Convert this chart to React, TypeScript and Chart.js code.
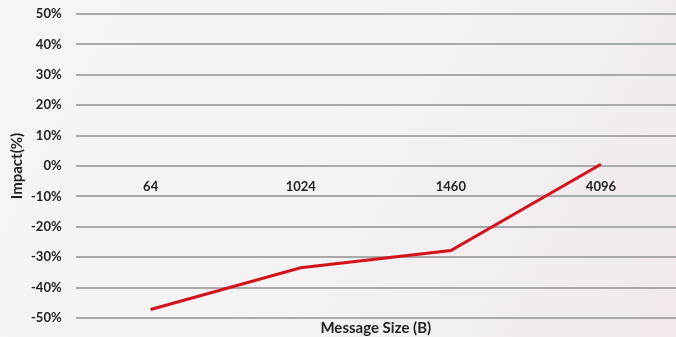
import React, { useEffect, useRef } from "react";
import { Chart, registerables } from "chart.js";

Chart.register(...registerables);

const messageSizes = ["64", "1024", "1460", "4096"];
const impactPercent = [-47.2, -33.5, -27.8, 0.6];
const yTicks = [-50, -40, -30, -20, -10, 0, 10, 20, 30, 40, 50];

const FONT = "Lato, 'Open Sans', sans-serif";
const TEXT = "#222222";

const backgroundPlugin = {
  id: "panelBackground",
  beforeDraw(chart: Chart) {
    const { ctx, width, height } = chart;
    ctx.save();
    const g = ctx.createLinearGradient(0, 0, width, height);
    g.addColorStop(0, "#f6f4f4");
    g.addColorStop(0.55, "#f5f2f3");
    g.addColorStop(1, "#f0e8ed");
    ctx.fillStyle = g;
    ctx.fillRect(0, 0, width, height);
    ctx.restore();
  },
};

export default function App() {
  const canvasRef = useRef<HTMLCanvasElement | null>(null);

  useEffect(() => {
    document.body.style.margin = "0";
    const canvas = canvasRef.current;
    if (!canvas) return;
    const chart = new Chart(canvas, {
      type: "line",
      data: {
        labels: messageSizes,
        datasets: [
          {
            data: impactPercent,
            borderColor: "#d3121b",
            borderWidth: 3,
            pointRadius: 0,
            tension: 0,
            fill: false,
          },
        ],
      },
      options: {
        animation: false,
        responsive: false,
        maintainAspectRatio: false,
        layout: { padding: { top: 14, left: 5, right: 0, bottom: 0 } },
        plugins: {
          legend: { display: false },
          tooltip: { enabled: false },
          title: {
            display: true,
            position: "bottom",
            fullSize: false,
            text: "Message Size (B)",
            color: TEXT,
            font: { family: FONT, size: 15, weight: "bold" },
            padding: { top: 1, bottom: 0 },
          },
        },
        scales: {
          x: {
            type: "category",
            position: { y: 0 },
            offset: true,
            grid: { display: false },
            border: { display: false },
            ticks: {
              color: TEXT,
              font: { family: FONT, size: 13, weight: "bold" },
              padding: 5,
            },
          },
          y: {
            min: -50,
            max: 50,
            afterBuildTicks(scale: any) {
              scale.ticks = yTicks.map((v) => ({ value: v }));
            },
            grid: {
              color: "#a9a9ab",
              lineWidth: 2,
              drawTicks: true,
              tickLength: 11,
              tickColor: "rgba(0,0,0,0)",
            },
            border: { display: false },
            ticks: {
              color: TEXT,
              font: { family: FONT, size: 13, weight: "bold" },
              padding: 3,
              callback: (v: any) => `${v}%`,
            },
            title: {
              display: true,
              text: "Impact(%)",
              color: TEXT,
              font: { family: FONT, size: 15, weight: "bold" },
              padding: { top: 3, bottom: 2 },
            },
          },
        },
      },
      plugins: [backgroundPlugin],
    });
    return () => chart.destroy();
  }, []);

  return (
    <div style={{ position: "relative", width: 676, height: 337 }}>
      <canvas ref={canvasRef} width={676} height={337} />
    </div>
  );
}
